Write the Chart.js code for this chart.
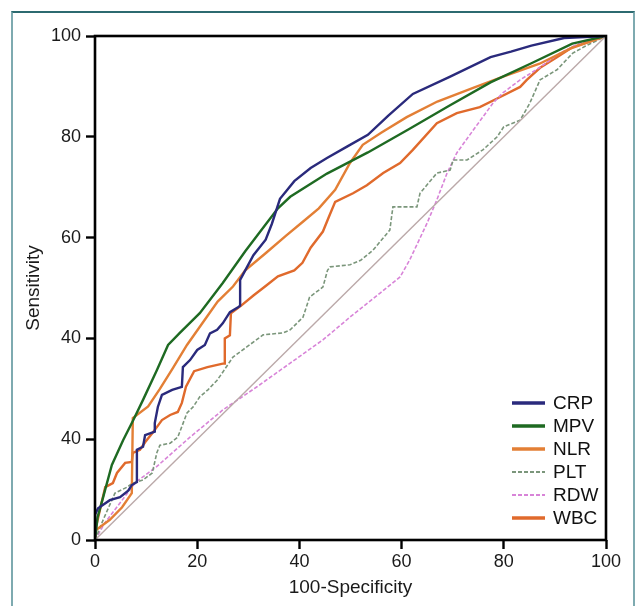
<!DOCTYPE html>
<html><head><meta charset="utf-8">
<script src="https://cdn.jsdelivr.net/npm/chart.js@4"></script>
<style>
html,body{margin:0;padding:0;background:#fff;overflow:hidden}
#frame{position:absolute;left:11px;top:11px;width:620px;height:640px;border:2px solid #7eaab0;border-top-color:#2c6a70}
#wrap{position:absolute;left:0;top:0;width:639px;height:606px}
</style></head><body>
<div id="frame"></div>
<div id="wrap"><canvas id="c"></canvas></div>
<script>
/* ===== 資料 (x = 100-Specificity, y = Sensitivity) ===== */
const NAMES=['CRP','MPV','NLR','PLT','RDW','WBC'];
const Y_TICKS=[0,20,40,60,80,100],Y_LABELS=['0','40','40','60','80','100'];
const CRP=[[0,0],[0,5],[0.6,6.3],[2.9,7.9],[4.9,8.5],[6.5,9.8],[7.2,10.9],[8.2,11.5],[8.2,17.9],[9.4,18.5],[9.8,20.8],[11.7,21.5],[11.7,23.2],[12.3,26.4],[13.1,28.8],[15.1,29.8],[17,30.4],[17.2,34.3],[18.6,35.7],[20,37.7],[21.5,38.7],[22.5,41],[23.9,41.7],[25,43],[26.4,45.2],[28,46.2],[28.4,46.5],[28.4,51.6],[29.4,53.5],[31,56.5],[33.4,59.6],[34.6,62.7],[36.2,67.7],[37.4,69.2],[39,71.2],[42.2,73.8],[45.4,75.8],[49.4,78.1],[53.4,80.4],[57.4,84.2],[62.2,88.5],[69.4,91.9],[77.4,95.8],[81.4,96.9],[85.4,98.1],[91.8,99.6],[100,100]];
const MPV=[[0,0],[0.5,4.5],[1.6,8.5],[3.3,14.9],[5.5,19.8],[7.5,23.8],[9.4,27.8],[12.1,33.7],[14.3,38.7],[16.6,41.1],[20.5,45],[25,51],[29.4,57.3],[35.8,65.8],[38.2,68.1],[45.4,72.7],[53.4,76.9],[61.4,81.5],[69.4,86.2],[77.4,90.8],[85.4,94.6],[93.4,98.5],[100,100]];
const NLR=[[0,0],[0.2,2],[2.9,4],[5.3,6.5],[7.2,9.3],[7.4,24.2],[10.4,26.5],[12.7,30],[15.3,34.2],[18,38.7],[21,43],[24,47.3],[27,50.3],[29.4,53.5],[33.5,57],[37.4,60.4],[40.5,63],[43.8,65.8],[47,69.5],[49.9,74.8],[52.4,78.4],[56,80.8],[61,83.9],[67,87],[74,89.7],[80,92],[87,94.5],[93,97.5],[100,100]];
const PLT=[[0,0],[1.6,4],[3.9,9.3],[6.3,10.5],[7.4,11.3],[9.4,11.9],[11.2,13.3],[12.1,17.3],[12.7,18.8],[14.7,19.2],[16.2,20.4],[18,25.2],[19.2,26.4],[20.5,28.4],[22.1,29.8],[23.9,31.7],[25,33.3],[27,36.3],[29.7,38.3],[32.9,40.7],[36.8,41.1],[38.2,41.7],[40.7,44.2],[42,48.2],[44.6,50.2],[45.5,53.5],[46,54.2],[49.9,54.6],[52,55.5],[54.4,57.5],[57.7,61.5],[58.3,66.1],[63,66.1],[63.6,68.8],[66.9,72.8],[69.5,73.4],[70.1,75.4],[72.8,75.4],[75.9,77.4],[78.7,80],[80,82],[83.2,83.3],[85.1,86.7],[87.1,91.3],[90.4,93.3],[93.5,96.6],[96,98],[100,100]];
const RDW=[[0,0],[2,3.5],[5,7.5],[8,11.5],[12,14.5],[18.6,20.4],[25,25.8],[31.7,30.4],[38.2,35.1],[44.6,39.7],[50,44.3],[55.8,49],[59.7,52.2],[61.6,55.6],[65,62.9],[66.9,67.5],[68.9,72.8],[70.8,76.8],[74,81.3],[77.9,86.7],[79.8,88.7],[83.2,91.3],[87.1,93.8],[91,96.6],[94.9,98.6],[100,100]];
const WBC=[[0,0],[0.2,2.6],[2,10.5],[3.5,11.3],[4.3,13.3],[5.9,15.3],[7.2,15.5],[7.4,17.3],[8.8,17.9],[9.8,19.4],[11.2,21.2],[12.1,22.4],[13.1,23.8],[14.7,24.8],[16.2,25.4],[17,27.2],[17.8,30.4],[19.4,33.5],[22,34.3],[25,35],[25.4,35],[25.4,40],[26.4,40.6],[26.6,45],[28.6,46.5],[31,48.5],[33.4,50.4],[35.8,52.3],[39,53.5],[40.6,55],[42.2,58],[44.6,61.2],[45.8,64.2],[47,67.1],[50.5,68.8],[53.2,70.4],[56.4,72.8],[59.7,74.8],[62.2,77.4],[66.9,82.7],[70.8,84.7],[75.3,85.9],[79.3,87.9],[83.2,89.9],[84.5,91.3],[87.1,93.7],[90.4,95.8],[93.5,97.8],[98.8,99.6],[100,100]];
const REF=[[0,0],[100,100]];

/* ===== 樣式 ===== */
const FONT='"Liberation Sans", Arial, sans-serif';
const SERIES=[CRP,MPV,NLR,PLT,RDW,WBC];
const COLORS=['#2a2a7c','#1e6a22','#e37f35','#7b967b','#d884d8','#e06a2c'];
const DASH=[[],[],[],[4,2],[4,2],[]];
const WIDTH=[2.4,2.4,2.4,1.6,1.6,2.4];
const pts=a=>a.map(([x,y])=>({x,y}));

const ds=SERIES.map((s,i)=>({label:NAMES[i],data:pts(s),borderColor:COLORS[i],borderDash:DASH[i],borderWidth:WIDTH[i],
  pointRadius:0,tension:0,fill:false}));
ds.unshift({label:'',data:pts(REF),borderColor:'#bba9a9',borderWidth:1.4,pointRadius:0,fill:false});

/* 圖例 + 外框 */
const boxPlug={id:'boxPlug',afterDraw(ch){
  const {ctx,chartArea:a}=ch;
  ctx.save();
  ctx.strokeStyle='#000';ctx.lineWidth=2.6;ctx.strokeRect(a.left,a.top,a.right-a.left,a.bottom-a.top);
  ctx.font='19px '+FONT;ctx.textBaseline='middle';ctx.fillStyle='#111';
  NAMES.forEach((n,i)=>{
    const y=a.bottom-137+i*23;
    ctx.beginPath();ctx.strokeStyle=COLORS[i];ctx.lineWidth=i===3||i===4?2.2:3.4;ctx.setLineDash(DASH[i]);
    ctx.moveTo(a.right-94,y);ctx.lineTo(a.right-61,y);ctx.stroke();ctx.setLineDash([]);
    ctx.fillText(n,a.right-53,y+1);
  });
  ctx.restore();
}};

const tickFont={family:FONT,size:18};
new Chart(document.getElementById('c'),{type:'line',data:{datasets:ds},plugins:[boxPlug],
options:{responsive:true,maintainAspectRatio:false,animation:false,devicePixelRatio:1,
  layout:{padding:{left:0,right:33,top:36,bottom:0}},
  plugins:{legend:{display:false},tooltip:{enabled:false}},
  scales:{
    x:{type:'linear',min:0,max:100,
      ticks:{stepSize:20,font:tickFont,color:'#1a1a1a',padding:2,maxRotation:0},
      grid:{drawOnChartArea:false,color:'#000',tickLength:9,tickWidth:2.4},border:{display:false},
      title:{display:true,text:'100-Specificity',font:{family:FONT,size:19},color:'#1a1a1a',padding:{top:0,bottom:7}},
      afterFit:s=>{s.height=66}},
    y:{type:'linear',min:0,max:100,
      afterBuildTicks:s=>{s.ticks=Y_TICKS.map(v=>({value:v}))},
      ticks:{font:tickFont,color:'#1a1a1a',padding:5,callback:v=>Y_LABELS[Y_TICKS.indexOf(v)]},
      grid:{drawOnChartArea:false,color:'#000',tickLength:9,tickWidth:2.4},border:{display:false},
      title:{display:true,text:'Sensitivity',font:{family:FONT,size:19},color:'#1a1a1a',padding:{top:22,bottom:0}},
      afterFit:s=>{s.width=95}}
  }}});
</script>
</body></html>
